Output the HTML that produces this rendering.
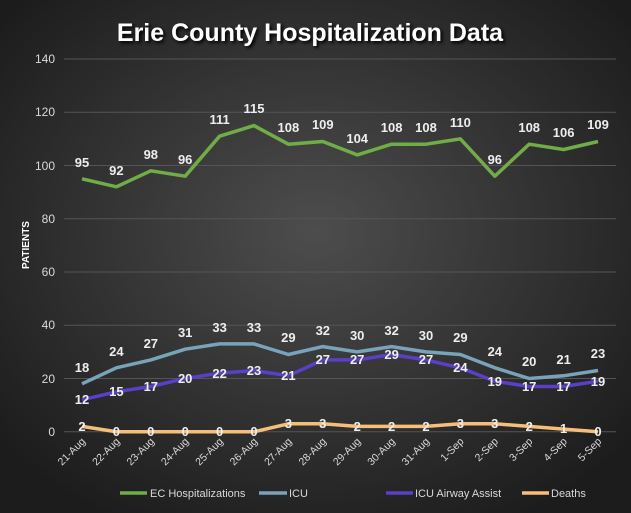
<!DOCTYPE html>
<html><head><style>
body{margin:0;width:631px;height:513px;overflow:hidden;background:#2a2a2a}
svg{display:block;font-family:"Liberation Sans",sans-serif}
</style></head><body>
<svg width="631" height="513" viewBox="0 0 631 513">
<defs>
<radialGradient id="bg" cx="50%" cy="45%" r="65%">
<stop offset="0" stop-color="#4d4d4d"/><stop offset="1" stop-color="#1c1c1c"/>
</radialGradient>
</defs>
<rect width="631" height="513" fill="url(#bg)"/>
<g stroke="#555" stroke-width="1">
<line x1="64" x2="616" y1="59" y2="59"/><line x1="64" x2="616" y1="112.25" y2="112.25"/>
<line x1="64" x2="616" y1="165.5" y2="165.5"/><line x1="64" x2="616" y1="218.75" y2="218.75"/>
<line x1="64" x2="616" y1="272" y2="272"/><line x1="64" x2="616" y1="325.25" y2="325.25"/>
<line x1="64" x2="616" y1="378.5" y2="378.5"/><line x1="64" x2="616" y1="431.75" y2="431.75"/>
</g>
<text x="310" y="41" text-anchor="middle" font-size="25" font-weight="bold" fill="#fff" style="text-shadow:2px 2px 3px #000">Erie County Hospitalization Data</text>
<g font-size="12" fill="#d9d9d9" text-anchor="end">
<text x="55" y="63">140</text><text x="55" y="116">120</text><text x="55" y="170">100</text>
<text x="55" y="223">80</text><text x="55" y="276">60</text><text x="55" y="329">40</text>
<text x="55" y="383">20</text><text x="55" y="436">0</text>
</g>
<text transform="translate(29,245) rotate(-90)" text-anchor="middle" font-size="10" font-weight="bold" fill="#fff">PATIENTS</text>
<g fill="none" stroke-width="3.5" stroke-linejoin="round">
<polyline stroke="#70ad47" points="82,178.8 116.4,186.8 150.8,170.8 185.2,176.2 219.6,136.2 254,125.6 288.4,144.2 322.8,141.5 357.2,154.9 391.6,144.2 426,144.2 460.4,138.9 494.8,176.2 529.2,144.2 563.6,149.5 598,141.5"/>
<polyline stroke="#78a3b8" points="82,383.8 116.4,367.8 150.8,359.9 185.2,349.2 219.6,343.9 254,343.9 288.4,354.5 322.8,346.6 357.2,351.9 391.6,346.6 426,351.9 460.4,354.5 494.8,367.8 529.2,378.5 563.6,375.8 598,370.5"/>
<polyline stroke="#5a3fc8" points="82,399.8 116.4,391.8 150.8,386.5 185.2,378.5 219.6,373.2 254,370.5 288.4,375.8 322.8,359.9 357.2,359.9 391.6,354.5 426,359.9 460.4,367.8 494.8,381.2 529.2,386.5 563.6,386.5 598,381.2"/>
<polyline stroke="#f7be7a" points="82,426.4 116.4,431.75 150.8,431.75 185.2,431.75 219.6,431.75 254,431.75 288.4,423.8 322.8,423.8 357.2,426.4 391.6,426.4 426,426.4 460.4,423.8 494.8,423.8 529.2,426.4 563.6,429.1 598,431.75"/>
</g>
<g font-size="13" font-weight="bold" fill="#eee" text-anchor="middle">
<text x="82" y="167">95</text><text x="116.4" y="175">92</text><text x="150.8" y="159">98</text><text x="185.2" y="164">96</text><text x="219.6" y="124">111</text><text x="254" y="113">115</text><text x="288.4" y="132">108</text><text x="322.8" y="129">109</text><text x="357.2" y="143">104</text><text x="391.6" y="132">108</text><text x="426" y="132">108</text><text x="460.4" y="127">110</text><text x="494.8" y="164">96</text><text x="529.2" y="132">108</text><text x="563.6" y="137">106</text><text x="598" y="129">109</text>
<text x="82" y="372">18</text><text x="116.4" y="356">24</text><text x="150.8" y="348">27</text><text x="185.2" y="337">31</text><text x="219.6" y="332">33</text><text x="254" y="332">33</text><text x="288.4" y="342">29</text><text x="322.8" y="335">32</text><text x="357.2" y="340">30</text><text x="391.6" y="335">32</text><text x="426" y="340">30</text><text x="460.4" y="342">29</text><text x="494.8" y="356">24</text><text x="529.2" y="366">20</text><text x="563.6" y="364">21</text><text x="598" y="358">23</text>
<text x="82" y="404">12</text><text x="116.4" y="396">15</text><text x="150.8" y="391">17</text><text x="185.2" y="383">20</text><text x="219.6" y="378">22</text><text x="254" y="375">23</text><text x="288.4" y="380">21</text><text x="322.8" y="364">27</text><text x="357.2" y="364">27</text><text x="391.6" y="359">29</text><text x="426" y="364">27</text><text x="460.4" y="372">24</text><text x="494.8" y="386">19</text><text x="529.2" y="391">17</text><text x="563.6" y="391">17</text><text x="598" y="386">19</text>
<text x="82" y="431">2</text><text x="116.4" y="436">0</text><text x="150.8" y="436">0</text><text x="185.2" y="436">0</text><text x="219.6" y="436">0</text><text x="254" y="436">0</text><text x="288.4" y="428">3</text><text x="322.8" y="428">3</text><text x="357.2" y="431">2</text><text x="391.6" y="431">2</text><text x="426" y="431">2</text><text x="460.4" y="428">3</text><text x="494.8" y="428">3</text><text x="529.2" y="431">2</text><text x="563.6" y="433">1</text><text x="598" y="436">0</text>
</g>
<g font-size="10.5" fill="#d9d9d9" text-anchor="end">
<text transform="translate(86,442) rotate(-45)">21-Aug</text><text transform="translate(120.4,442) rotate(-45)">22-Aug</text><text transform="translate(154.8,442) rotate(-45)">23-Aug</text><text transform="translate(189.2,442) rotate(-45)">24-Aug</text><text transform="translate(223.6,442) rotate(-45)">25-Aug</text><text transform="translate(258,442) rotate(-45)">26-Aug</text><text transform="translate(292.4,442) rotate(-45)">27-Aug</text><text transform="translate(326.8,442) rotate(-45)">28-Aug</text><text transform="translate(361.2,442) rotate(-45)">29-Aug</text><text transform="translate(395.6,442) rotate(-45)">30-Aug</text><text transform="translate(430,442) rotate(-45)">31-Aug</text><text transform="translate(464.4,442) rotate(-45)">1-Sep</text><text transform="translate(498.8,442) rotate(-45)">2-Sep</text><text transform="translate(533.2,442) rotate(-45)">3-Sep</text><text transform="translate(567.6,442) rotate(-45)">4-Sep</text><text transform="translate(602,442) rotate(-45)">5-Sep</text>
</g>
<g stroke-width="3.5">
<line x1="120" x2="147" y1="493" y2="493" stroke="#70ad47"/>
<line x1="259" x2="287" y1="493" y2="493" stroke="#78a3b8"/>
<line x1="386" x2="413" y1="493" y2="493" stroke="#5a3fc8"/>
<line x1="522" x2="549" y1="493" y2="493" stroke="#f7be7a"/>
</g>
<g font-size="11" fill="#d9d9d9">
<text x="150" y="497">EC Hospitalizations</text><text x="289" y="497">ICU</text>
<text x="415" y="497">ICU Airway Assist</text><text x="551" y="497">Deaths</text>
</g>
</svg>
</body></html>
